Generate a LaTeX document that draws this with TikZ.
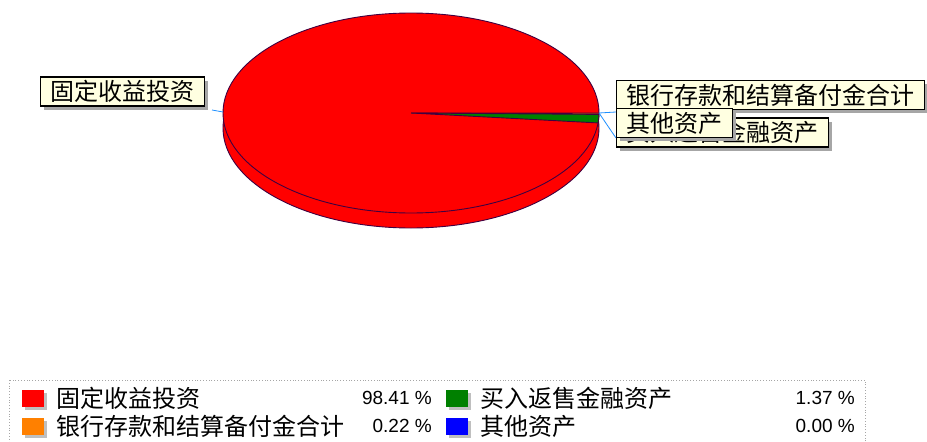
\documentclass[tikz,border=0pt]{standalone}
\usepackage{fontspec}
\setmainfont{Liberation Sans}
\newfontfamily\cjk{Noto Sans CJK SC}
\usetikzlibrary{positioning,shadows}

\definecolor{tipfill}{RGB}{255,255,225}
\definecolor{pieline}{RGB}{64,0,64}
\definecolor{leadblue}{RGB}{30,144,255}
\definecolor{pieorange}{RGB}{255,128,0}
\definecolor{piegreen}{RGB}{0,128,0}

\tikzset{
  callout/.style={draw=black,line width=1.2pt,fill=tipfill,inner xsep=10pt,inner ysep=0pt,
    minimum height=29pt,font=\cjk\fontsize{24}{27}\selectfont,
    general shadow={fill=black!35,shadow xshift=3.5pt,shadow yshift=-3.5pt}},
  legkey/.style={minimum width=22pt,minimum height=17pt,inner sep=0pt,
    general shadow={fill=black!25,shadow xshift=3pt,shadow yshift=-3pt}},
  legtext/.style={inner sep=0pt,font=\cjk\fontsize{24}{27}\selectfont},
  legnum/.style={inner sep=0pt,font=\fontsize{19}{22}\selectfont},
  leader/.style={draw=leadblue,line width=0.8pt},
  wedge/.style={draw=pieline,line width=0.9pt}
}

\begin{document}
\begin{tikzpicture}[x=1pt,y=1pt]
  \useasboundingbox[fill=white] (0,0) rectangle (927,-442);

  % pie
  \coordinate (c) at (411,-113);
  \filldraw[wedge,fill=red] (411,-128) ellipse [x radius=188,y radius=100];
  \filldraw[wedge,fill=red] (c) ellipse [x radius=188,y radius=100];
  \filldraw[wedge,fill=pieorange] (c) -- ++(0:188 and 100)
    arc[start angle=0,end angle=-0.8,x radius=188,y radius=100] -- cycle;
  \filldraw[wedge,fill=piegreen] (c) -- ++(-0.8:188 and 100)
    arc[start angle=-0.8,end angle=-5.7,x radius=188,y radius=100] -- cycle;
  \coordinate (pl) at (223,-112);
  \coordinate (pr) at (599,-113);

  % labels
  \node[callout,anchor=east] (fix) at (205,-91.5) {固定收益投资};
  \coordinate (fl) at (212,-110);
  \draw[leader] (pl) -- (fl);
  \draw[leader] (pr) -- (616,-112);
  \draw[leader] (pr) -- (616,-138);
  \node[callout,anchor=west] (bank) at (616,-95) {银行存款和结算备付金合计};
  \node[callout,anchor=west] (repo) at (616,-132.5) {买入返售金融资产};
  \node[callout,anchor=west] (other) at (616,-123) {其他资产};

  % legend
  \draw[black!35,dotted,line width=0.8pt] (9,-380) rectangle (865,-460);
  \node[legkey,fill=red] (k1) at (33,-398) {};
  \node[legtext,right=12pt of k1] (t1) {固定收益投资};
  \node[legnum,anchor=east] (p1) at (432,-398) {98.41 \%};
  \node[legkey,fill=piegreen] (k2) at (457,-398) {};
  \node[legtext,right=12pt of k2] (t2) {买入返售金融资产};
  \node[legnum,anchor=east] (p2) at (855,-398) {1.37 \%};
  \node[legkey,fill=pieorange] (k3) at (33,-426) {};
  \node[legtext,right=12pt of k3] (t3) {银行存款和结算备付金合计};
  \node[legnum,anchor=east] (p3) at (432,-426) {0.22 \%};
  \node[legkey,fill=blue] (k4) at (457,-426) {};
  \node[legtext,right=12pt of k4] (t4) {其他资产};
  \node[legnum,anchor=east] (p4) at (855,-426) {0.00 \%};
\end{tikzpicture}
\end{document}
